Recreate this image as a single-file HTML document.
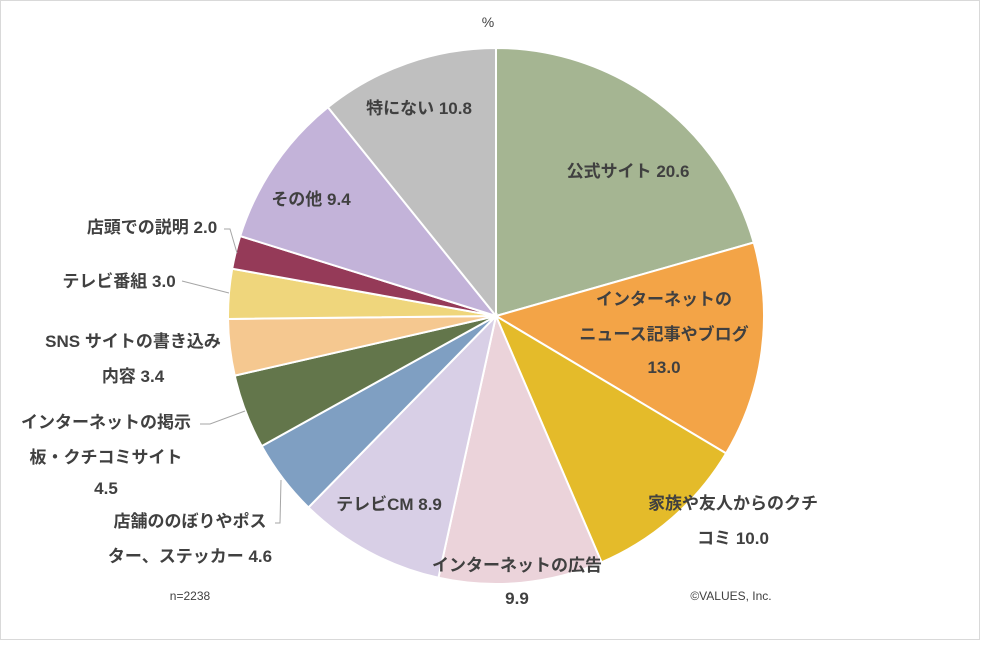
<!DOCTYPE html>
<html><head><meta charset="utf-8"><style>
body{margin:0;background:#fff}
svg text{font-family:"Liberation Sans","Noto Sans CJK JP",sans-serif;font-weight:bold;fill:#404040;font-size:17px}
</style></head><body>
<svg id="s" width="981" height="641" xmlns="http://www.w3.org/2000/svg">
<rect x="0.5" y="0.5" width="979" height="639" fill="#fff" stroke="#d9d9d9"/>
<g id="pie"></g>
<g stroke="#a6a6a6" fill="none" stroke-width="1">
<polyline points="224,229 230,229 237,253"/>
<polyline points="182,281 229,293"/>
<polyline points="200,424 210,424 245,411"/>
<polyline points="275,523 280,523 281,480"/>
</g>
<text x="488" y="27" text-anchor="middle" style="font-weight:normal;font-size:14px">%</text>
<text x="628" y="177" text-anchor="middle">公式サイト 20.6</text>
<text x="664" y="305" text-anchor="middle">インターネットの</text>
<text x="664" y="340" text-anchor="middle">ニュース記事やブログ</text>
<text x="664" y="373" text-anchor="middle">13.0</text>
<text x="733" y="509" text-anchor="middle">家族や友人からのクチ</text>
<text x="733" y="544" text-anchor="middle">コミ 10.0</text>
<text x="517" y="571" text-anchor="middle">インターネットの広告</text>
<text x="517" y="604" text-anchor="middle">9.9</text>
<text x="389" y="510" text-anchor="middle">テレビCM 8.9</text>
<text x="190" y="527" text-anchor="middle">店舗ののぼりやポス</text>
<text x="190" y="562" text-anchor="middle">ター、ステッカー 4.6</text>
<text x="106" y="428" text-anchor="middle">インターネットの掲示</text>
<text x="106" y="463" text-anchor="middle">板・クチコミサイト</text>
<text x="106" y="494" text-anchor="middle">4.5</text>
<text x="133" y="347" text-anchor="middle">SNS サイトの書き込み</text>
<text x="133" y="382" text-anchor="middle">内容 3.4</text>
<text x="119" y="287" text-anchor="middle">テレビ番組 3.0</text>
<text x="152" y="233" text-anchor="middle">店頭での説明 2.0</text>
<text x="311" y="205" text-anchor="middle">その他 9.4</text>
<text x="419" y="114" text-anchor="middle">特にない 10.8</text>
<text x="190" y="600" text-anchor="middle" style="font-weight:normal;font-size:12px">n=2238</text>
<text x="731" y="600" text-anchor="middle" style="font-weight:normal;font-size:12px">©VALUES, Inc.</text>
</svg>
<script>
var d=[[20.6,"#A5B592"],[13.0,"#F3A447"],[10.0,"#E4BB2A"],[9.9,"#EBD3DA"],[8.9,"#D8CFE6"],[4.6,"#7F9FC2"],[4.5,"#63764B"],[3.4,"#F5C890"],[3.0,"#EFD67C"],[2.0,"#953A58"],[9.4,"#C3B3D9"],[10.8,"#BFBFBF"]];
var tot=0;d.forEach(function(x){tot+=x[0]});
var cx=496,cy=316,r=268,a=0,g=document.getElementById("pie"),h="";
d.forEach(function(x){var a2=a+x[0]/tot*2*Math.PI;
var x1=cx+r*Math.sin(a),y1=cy-r*Math.cos(a),x2=cx+r*Math.sin(a2),y2=cy-r*Math.cos(a2);
h+='<path d="M'+cx+','+cy+'L'+x1+','+y1+'A'+r+','+r+' 0 '+(a2-a>Math.PI?1:0)+' 1 '+x2+','+y2+'Z" fill="'+x[1]+'" stroke="#fff" stroke-width="2"/>';a=a2;});
g.innerHTML=h;
</script>
</body></html>
